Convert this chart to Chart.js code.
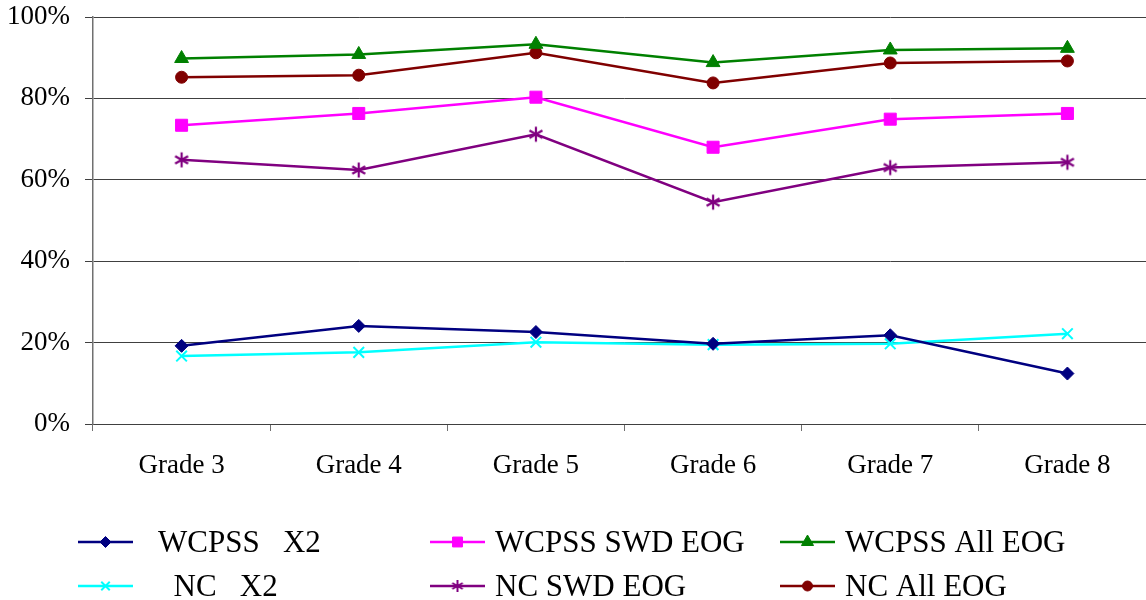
<!DOCTYPE html>
<html>
<head>
<meta charset="utf-8">
<script src="https://cdn.jsdelivr.net/npm/chart.js@4.4.1/dist/chart.umd.min.js"></script>
<style>
  html, body { margin: 0; padding: 0; background: #fff; overflow: hidden; width: 1146px; height: 600px; }
  #clip { position: relative; width: 1146px; height: 600px; overflow: hidden; }
  #c { position: absolute; left: 0; top: 0; display: block; width: 1156px; height: 600px; }
</style>
</head>
<body>
<div id="clip"><canvas id="c" width="1156" height="600"></canvas></div>
<script>
const categories = ["Grade 3", "Grade 4", "Grade 5", "Grade 6", "Grade 7", "Grade 8"];
const yTicks = [0, 20, 40, 60, 80, 100];

const wcpssX2     = [19.2, 24.1, 22.6, 19.7, 21.8, 12.4];
const wcpssSwdEog = [73.4, 76.3, 80.3, 68.0, 74.9, 76.3];
const wcpssAllEog = [89.8, 90.8, 93.3, 88.8, 91.9, 92.3];
const ncX2        = [16.7, 17.6, 20.1, 19.5, 19.7, 22.2];
const ncSwdEog    = [64.9, 62.4, 71.2, 54.5, 63.0, 64.3];
const ncAllEog    = [85.2, 85.7, 91.2, 83.8, 88.7, 89.2];

const seriesLabels = ["WCPSS   X2", "WCPSS SWD EOG", "WCPSS All EOG", "  NC   X2", "NC SWD EOG", "NC All EOG"];

const FONT = "'Liberation Serif', 'Times New Roman', serif";

// six-armed asterisk marker (X plus vertical bar)
function makeAsterisk(color, r, lw) {
  const s = Math.ceil(r * 2 + lw * 2);
  const cv = document.createElement('canvas');
  cv.width = s; cv.height = s;
  const g = cv.getContext('2d');
  g.strokeStyle = color; g.lineWidth = lw; g.lineCap = 'butt';
  const c = s / 2;
  g.beginPath();
  for (const a of [90, 30, 150]) {
    const rad = a * Math.PI / 180;
    g.moveTo(c - r * Math.cos(rad), c - r * Math.sin(rad));
    g.lineTo(c + r * Math.cos(rad), c + r * Math.sin(rad));
  }
  g.stroke();
  return cv;
}
const starBig = makeAsterisk('#800080', 7.5, 2.2);
const starSmall = makeAsterisk('#800080', 6, 2);

function ds(label, data, color, style, radius, legendRadius, legendStyle) {
  return {
    label, data,
    borderColor: color, backgroundColor: color,
    pointBackgroundColor: color, pointBorderColor: color,
    pointStyle: style, pointRadius: radius, pointHoverRadius: radius,
    pointBorderWidth: style === 'crossRot' ? 2 : 1,
    borderWidth: 2.5, tension: 0, fill: false,
    legendRadius, legendStyle: legendStyle || style
  };
}

const datasets = [
  ds(seriesLabels[0], wcpssX2, '#000080', 'rectRot', 6.5, 5.5),
  ds(seriesLabels[1], wcpssSwdEog, '#FF00FF', 'rect', 8.5, 7),
  ds(seriesLabels[2], wcpssAllEog, '#008000', 'triangle', 8, 7),
  ds(seriesLabels[3], ncX2, '#00FFFF', 'crossRot', 7.5, 6),
  ds(seriesLabels[4], ncSwdEog, '#800080', starBig, 7.5, 6, starSmall),
  ds(seriesLabels[5], ncAllEog, '#800000', 'circle', 6, 5),
];

const legendPlugin = {
  id: 'customLegend',
  afterDraw(chart) {
    const ctx = chart.ctx;
    const colLine = [78, 430, 780];
    const colText = [158, 495, 845];
    const rowY = [542, 586];
    ctx.save();
    chart.data.datasets.forEach((d, i) => {
      const col = i % 3, row = Math.floor(i / 3);
      const y = rowY[row];
      ctx.strokeStyle = d.borderColor;
      ctx.lineWidth = 2.5;
      ctx.beginPath();
      ctx.moveTo(colLine[col], y);
      ctx.lineTo(colLine[col] + 55, y);
      ctx.stroke();
      ctx.fillStyle = d.backgroundColor;
      ctx.lineWidth = d.pointBorderWidth;
      Chart.helpers.drawPoint(ctx, {
        pointStyle: d.legendStyle, radius: d.legendRadius, rotation: 0, borderWidth: d.pointBorderWidth
      }, colLine[col] + 27.5, y);
      ctx.fillStyle = '#000';
      ctx.font = "31px " + FONT;
      ctx.textBaseline = 'alphabetic';
      ctx.textAlign = 'left';
      ctx.fillText(d.label, colText[col], y + 10);
    });
    ctx.restore();
  }
};

new Chart(document.getElementById('c'), {
  type: 'line',
  data: { labels: categories, datasets },
  options: {
    responsive: false,
    maintainAspectRatio: false,
    animation: false,
    devicePixelRatio: 1,
    layout: { autoPadding: false, padding: { top: 17, left: 0, right: 0, bottom: 0 } },
    plugins: { legend: { display: false }, tooltip: { enabled: false } },
    scales: {
      x: {
        offset: true,
        grid: { display: true, drawOnChartArea: false, offset: true, tickLength: 7, color: '#707070', lineWidth: 1 },
        border: { display: true, color: '#404040', width: 1 },
        ticks: { color: '#000', font: { family: FONT, size: 27 }, padding: 19, maxRotation: 0 },
        afterFit(scale) {
          scale.height = 176;
          scale.paddingLeft = 0; scale.paddingRight = 0; scale.paddingTop = 0; scale.paddingBottom = 0;
        }
      },
      y: {
        min: 0, max: 100,
        afterBuildTicks(scale) { scale.ticks = yTicks.map(v => ({ value: v })); },
        grid: { color: '#404040', lineWidth: 1, tickLength: 8 },
        border: { display: true, color: '#707070', width: 1.5 },
        ticks: { color: '#000', font: { family: FONT, size: 27 }, padding: 15, callback: v => v + '%' },
        afterFit(scale) {
          scale.width = 93;
          scale.paddingLeft = 0; scale.paddingRight = 0; scale.paddingTop = 0; scale.paddingBottom = 0;
        }
      }
    }
  },
  plugins: [legendPlugin]
});
</script>
</body>
</html>
